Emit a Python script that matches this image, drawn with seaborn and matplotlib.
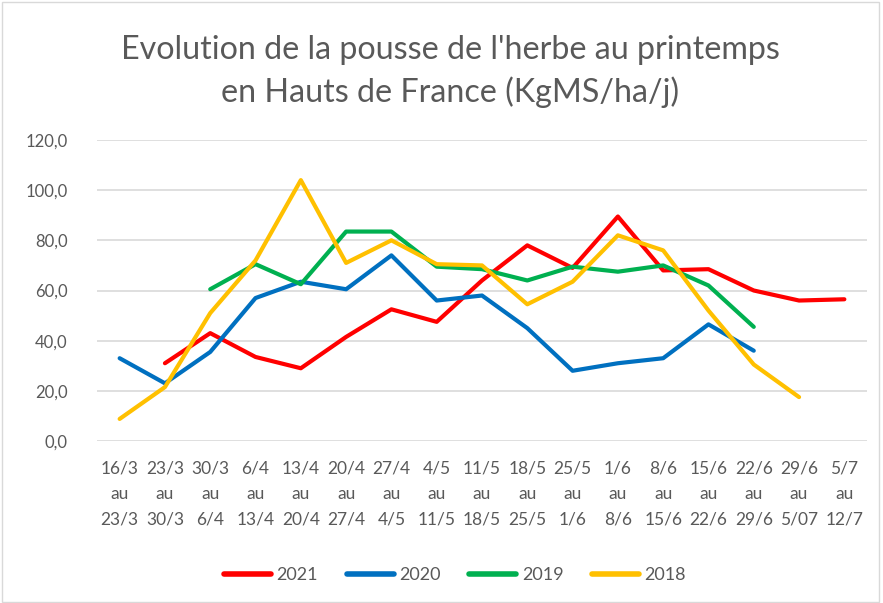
import matplotlib
matplotlib.use("Agg")
import matplotlib.pyplot as plt
import seaborn as sns
import numpy as np
import pandas as pd

# periods (start / end of each week)
debut = ["16/3", "23/3", "30/3", "6/4", "13/4", "20/4", "27/4", "4/5", "11/5",
         "18/5", "25/5", "1/6", "8/6", "15/6", "22/6", "29/6", "5/7"]
fin = ["23/3", "30/3", "6/4", "13/4", "20/4", "27/4", "4/5", "11/5", "18/5",
       "25/5", "1/6", "8/6", "15/6", "22/6", "29/6", "5/07", "12/7"]

nan = np.nan
pousse_2021 = [nan, 31, 43, 33.5, 29, 41.5, 52.5, 47.5, 64, 78, 69, 89.5, 68, 68.5, 60, 56, 56.5]
pousse_2020 = [33, 23, 35.5, 57, 63.5, 60.5, 74, 56, 58, 45, 28, 31, 33, 46.5, 36, nan, nan]
pousse_2019 = [nan, nan, 60.5, 70.5, 62.5, 83.5, 83.5, 69.5, 68.5, 64, 69.5, 67.5, 70, 62, 45.5, nan, nan]
pousse_2018 = [8.8, 21.5, 51, 72, 104, 71, 80, 70.5, 70, 54.5, 63.5, 82, 76, 52, 30.5, 17.5, nan]

annees = ["2021", "2020", "2019", "2018"]
couleurs = ["#FF0000", "#0070C0", "#00B050", "#FFC000"]

series = {"2021": pousse_2021, "2020": pousse_2020, "2019": pousse_2019, "2018": pousse_2018}
rows = []
for an, vals in series.items():
    for i, v in enumerate(vals):
        rows.append({"periode": i, "pousse": v, "annee": an})
df = pd.DataFrame(rows).dropna()

sns.set_theme(style="white")
plt.rcParams['font.family'] = ['Lato', 'DejaVu Sans']
gris = "#595959"

fig = plt.figure(figsize=(8.83, 6.03), dpi=100)
ax = fig.add_axes([97 / 883, 1 - 441 / 603, 770 / 883, 301 / 603])

sns.lineplot(data=df, x="periode", y="pousse", hue="annee", hue_order=annees,
             palette=couleurs, linewidth=3, ax=ax)

ax.set_xlim(-0.5, len(debut) - 0.5)
ax.set_ylim(0, 120)
ax.set_yticks(np.arange(0, 121, 20))
ax.set_yticklabels([f"{v:.1f}".replace(".", ",") for v in np.arange(0, 121, 20)],
                   color=gris, fontsize=12)
ax.set_xticks(range(len(debut)))
ax.set_xticklabels([f"{d}\nau\n{f}" for d, f in zip(debut, fin)],
                   color=gris, fontsize=12.5, linespacing=1.72)
ax.tick_params(axis="x", length=0, pad=14)
ax.tick_params(axis="y", length=0, pad=21)
ax.grid(axis="y", color="#D9D9D9", linewidth=1.2)
ax.set_axisbelow(True)
for s in ax.spines.values():
    s.set_visible(False)
ax.set_xlabel("")
ax.set_ylabel("")

fig.text(450 / 883, 1 - 50 / 603, "Evolution de la pousse de l'herbe au printemps",
         ha="center", va="center", fontsize=23.2, color=gris)
fig.text(450 / 883, 1 - 92 / 603, "en Hauts de France (KgMS/ha/j)",
         ha="center", va="center", fontsize=23.2, color=gris)

leg = ax.legend(loc="center", bbox_to_anchor=(455 / 883, 1 - 575 / 603),
                bbox_transform=fig.transFigure, ncol=4, frameon=False,
                fontsize=13, handlelength=2.6, columnspacing=1.6, handletextpad=0.3)
for line in leg.get_lines():
    line.set_linewidth(4)
for t in leg.get_texts():
    t.set_color(gris)

fig.patches.append(plt.Rectangle((0.002, 0.002), 0.994, 0.994, transform=fig.transFigure,
                                 fill=False, edgecolor="#D9D9D9", linewidth=1))

fig.savefig("out.png", dpi=100)
